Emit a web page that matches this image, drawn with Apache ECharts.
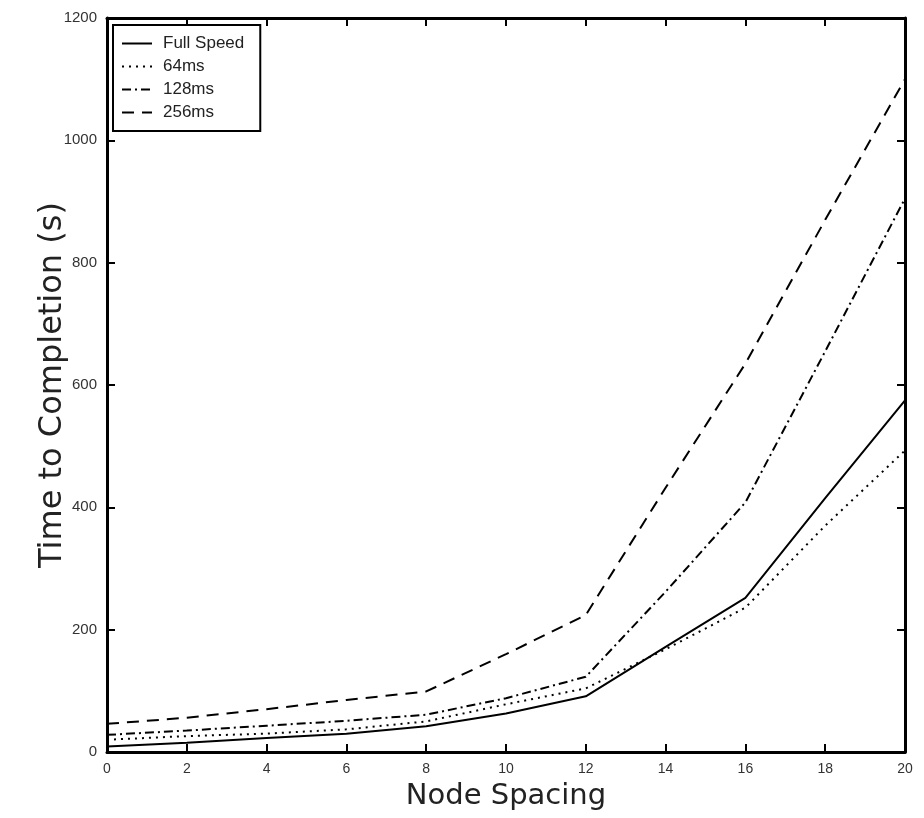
<!DOCTYPE html>
<html>
<head>
<meta charset="utf-8">
<script src="https://cdn.jsdelivr.net/npm/echarts@6/dist/echarts.min.js"></script>
<style>
  html, body { margin: 0; padding: 0; background: #fff; }
  #chart { width: 924px; height: 818px; }
</style>
</head>
<body>
<div id="chart"></div>
<script>
// node spacing values
var spacing = [0, 2, 4, 6, 8, 10, 12, 14, 16, 18, 20];

// time to completion (s)
var fullSpeed = [9, 15, 23, 30, 42, 63, 91, 172, 252, 415, 575];
var ms64 = [20, 26, 30, 37, 50, 78, 104, 168, 236, 370, 493];
var ms128 = [28, 35, 43, 51, 61, 88, 123, 262, 408, 655, 905];
var ms256 = [46, 56, 70, 85, 99, 160, 224, 432, 635, 870, 1100];

var seriesNames = ['Full Speed', '64ms', '128ms', '256ms'];

function pairs(ys) {
    var out = [];
    for (var i = 0; i < spacing.length; i++) {
        out.push([spacing[i], ys[i]]);
    }
    return out;
}

var tickFont = 'Liberation Sans';
var nameFont = 'DejaVu Sans';
var axisLine = { show: true, onZero: false, lineStyle: { color: '#000', width: 3 } };
var axisTick = { show: true, inside: true, length: 8, lineStyle: { color: '#000', width: 2 } };

var myChart = echarts.init(document.getElementById('chart'));

function lineSeries(name, ys, type) {
    return {
        name: name,
        type: 'line',
        data: pairs(ys),
        symbol: 'none',
        showSymbol: false,
        lineStyle: { color: '#000', width: 2, type: type },
        itemStyle: { color: '#000' }
    };
}

myChart.setOption({
    animation: false,
    grid: { left: 107, right: 19, top: 18, bottom: 66 },
    legend: {
        orient: 'vertical',
        left: 113,
        top: 25,
        data: seriesNames,
        itemWidth: 30,
        itemHeight: 14,
        itemGap: 6,
        padding: [10, 16, 10, 8],
        borderColor: '#000',
        borderWidth: 2,
        backgroundColor: '#fff',
        itemStyle: { color: 'rgba(0,0,0,0)', borderWidth: 0 },
        lineStyle: { color: '#000', width: 2 },
        textStyle: { fontFamily: tickFont, fontSize: 17, color: '#222', padding: [0, 0, 0, 6] }
    },
    xAxis: [{
        type: 'value',
        min: 0,
        max: 20,
        interval: 2,
        name: 'Node Spacing',
        nameLocation: 'middle',
        nameGap: 30,
        nameMoveOverlap: false,
        nameTextStyle: { fontFamily: nameFont, fontSize: 29, color: '#222' },
        axisLine: axisLine,
        axisTick: axisTick,
        splitLine: { show: false },
        axisLabel: { fontFamily: tickFont, fontSize: 14, color: '#333', margin: 10 }
    }, {
        type: 'value',
        position: 'top',
        min: 0,
        max: 20,
        interval: 2,
        axisLine: axisLine,
        axisTick: axisTick,
        splitLine: { show: false },
        axisLabel: { show: false }
    }],
    yAxis: [{
        type: 'value',
        min: 0,
        max: 1200,
        interval: 200,
        name: 'Time to Completion (s)',
        nameLocation: 'middle',
        nameGap: 38,
        nameMoveOverlap: false,
        nameTextStyle: { fontFamily: nameFont, fontSize: 32, color: '#222' },
        axisLine: axisLine,
        axisTick: axisTick,
        splitLine: { show: false },
        axisLabel: {
            fontFamily: tickFont, fontSize: 15, color: '#333', margin: 10,
            formatter: function(v) { return String(v); }
        }
    }, {
        type: 'value',
        position: 'right',
        min: 0,
        max: 1200,
        interval: 200,
        axisLine: axisLine,
        axisTick: axisTick,
        splitLine: { show: false },
        axisLabel: { show: false }
    }],
    series: [
        lineSeries('Full Speed', fullSpeed, 'solid'),
        lineSeries('64ms', ms64, [2, 5]),
        lineSeries('128ms', ms128, [9, 4, 2, 4]),
        lineSeries('256ms', ms256, [12, 8])
    ]
});
</script>
</body>
</html>
